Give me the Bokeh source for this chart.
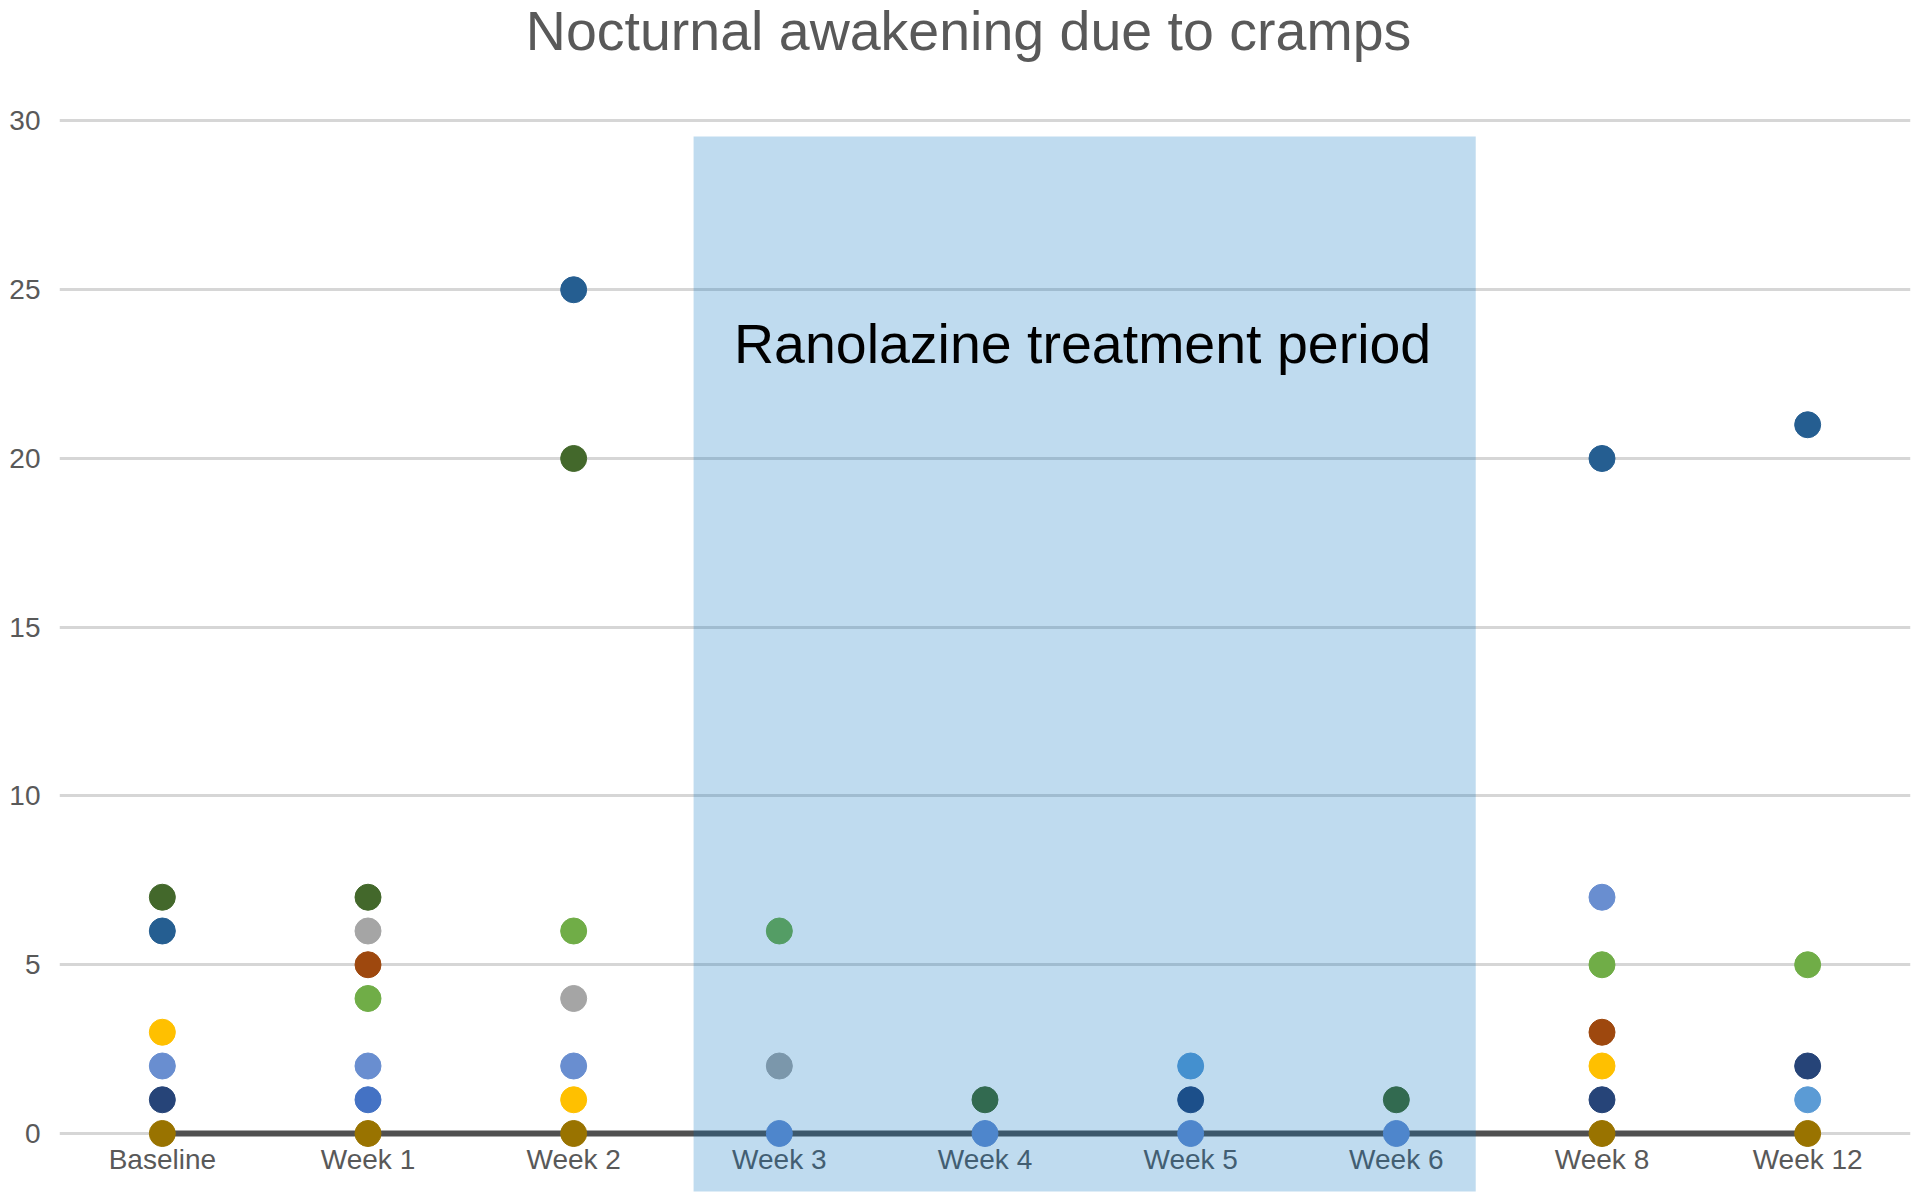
from bokeh.plotting import figure
from bokeh.models import FactorRange, Range1d, FixedTicker, ColumnDataSource
from bokeh.core.properties import value
from bokeh.embed import file_html
from bokeh.resources import INLINE

nan = float("nan")

categories = ["Baseline", "Week 1", "Week 2", "Week 3", "Week 4",
              "Week 5", "Week 6", "Week 8", "Week 12"]
y_ticks = [0, 5, 10, 15, 20, 25, 30]

zero_line = [0, 0, 0, 0, 0, 0, 0, 0, 0]

s_dark_green  = [7,   7,   20,  nan, 1,   nan, 1,   nan, nan]
s_dark_blue   = [6,   nan, 25,  nan, nan, nan, nan, 20,  21]
s_gold        = [3,   nan, 1,   nan, nan, nan, nan, 2,   nan]
s_light_blue  = [2,   2,   2,   0,   0,   0,   0,   7,   nan]
s_navy        = [1,   nan, nan, nan, nan, 1,   nan, 1,   2]
s_gray        = [nan, 6,   4,   2,   nan, nan, nan, nan, nan]
s_dark_orange = [nan, 5,   nan, nan, nan, nan, nan, 3,   nan]
s_green       = [nan, 4,   6,   6,   nan, nan, nan, 5,   5]
s_blue        = [nan, 1,   nan, nan, nan, nan, nan, nan, nan]
s_sky         = [nan, nan, nan, nan, nan, 2,   nan, nan, 1]
s_dark_gold   = [0,   0,   0,   nan, nan, nan, nan, 0,   0]

series = [
    (s_dark_green, "#43682B"),
    (s_dark_blue, "#255E91"),
    (s_gold, "#FFC000"),
    (s_light_blue, "#698ED0"),
    (s_navy, "#264478"),
    (s_gray, "#A5A5A5"),
    (s_dark_orange, "#9E480E"),
    (s_green, "#70AD47"),
    (s_blue, "#4472C4"),
    (s_sky, "#5B9BD5"),
    (s_dark_gold, "#997300"),
]

treatment_label = "Ranolazine treatment period"
title_text = "Nocturnal awakening due to cramps"

FONT = "Liberation Sans"

p = figure(width=1912, height=1195, x_range=FactorRange(*categories),
           y_range=Range1d(-1.837, 33.570), output_backend="svg",
           toolbar_location=None, min_border_left=59, min_border_right=2,
           min_border_top=0, min_border_bottom=0)

p.outline_line_color = None
p.xaxis.visible = False
p.xgrid.grid_line_color = None

p.yaxis.ticker = FixedTicker(ticks=y_ticks)
p.yaxis.axis_line_color = None
p.yaxis.major_tick_line_color = None
p.yaxis.minor_tick_line_color = None
p.yaxis.major_tick_out = 0
p.yaxis.major_tick_in = 0
p.yaxis.major_label_standoff = 19
p.yaxis.major_label_text_font = FONT
p.yaxis.major_label_text_font_size = "28px"
p.yaxis.major_label_text_color = "#595959"
p.ygrid.ticker = FixedTicker(ticks=y_ticks)
p.ygrid.grid_line_color = "#D6D6D6"
p.ygrid.grid_line_width = 3

# chart title (inside the canvas, above the 30 gridline)
p.text(x=[4.42], y=[32.66], text=[title_text], text_font=value(FONT),
       text_font_size="55.5px", text_color="#595959", text_align="center",
       text_baseline="alphabetic")

# dark zero series line
p.line(categories, zero_line, line_color="#505050", line_width=6)

for vals, col in series:
    src = ColumnDataSource(dict(x=categories, y=vals))
    p.scatter("x", "y", source=src, size=26, fill_color=col,
              line_color=col, line_width=1)

# category labels (drawn in plot so the treatment box tints them)
lab_src = ColumnDataSource(dict(x=categories, y=[-0.76] * len(categories), t=categories))
p.text("x", "y", text="t", source=lab_src, text_font=value(FONT),
       text_font_size="28px", text_color="#595959", text_align="center",
       text_baseline="alphabetic")

# treatment period box
box_left, box_right, box_bottom, box_top = 3.083, 6.886, -1.719, 29.54
p.quad(left=[box_left], right=[box_right], bottom=[box_bottom], top=[box_top],
       fill_color="#0070C0", fill_alpha=0.25, line_color=None)

p.text(x=[(box_left + box_right) / 2 - 0.01], y=[23.4], text=[treatment_label],
       text_font=value(FONT), text_font_size="55.5px", text_color="#000000",
       text_align="center", text_baseline="alphabetic")

open("out.html", "w").write(file_html(p, INLINE))
